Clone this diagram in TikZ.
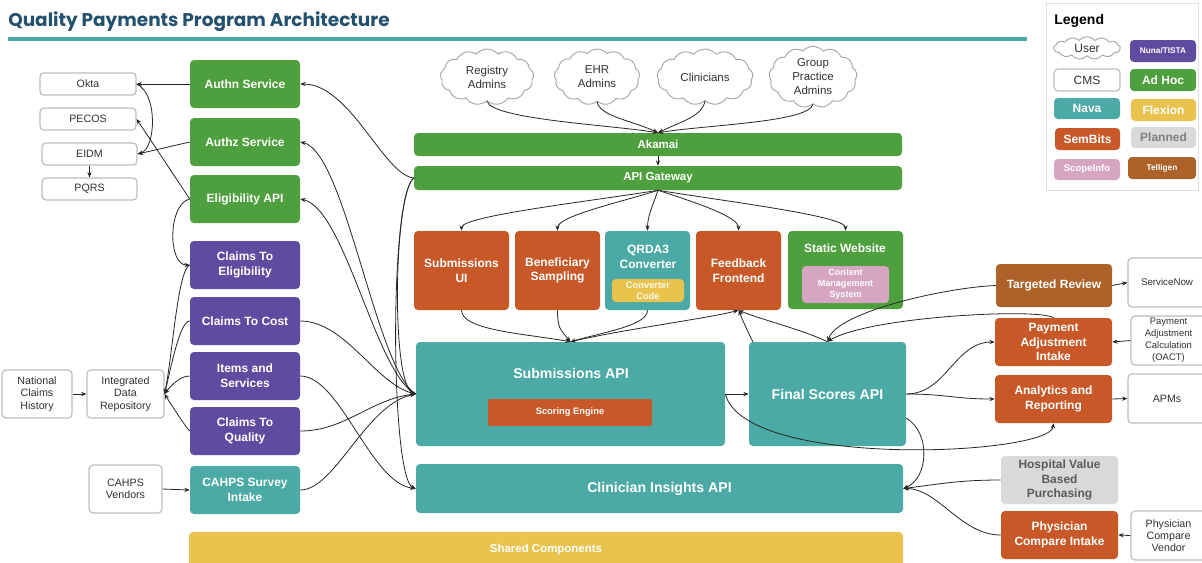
\documentclass[tikz,border=0pt]{standalone}
\usepackage{fontspec}
\usepackage{graphicx}
\setmainfont{Liberation Sans}
\newfontfamily\titlefont{Poppins}
\usetikzlibrary{shapes.symbols,arrows.meta}
\definecolor{adhoc}{RGB}{78,160,62}
\definecolor{nuna}{RGB}{95,76,160}
\definecolor{nava}{RGB}{75,170,165}
\definecolor{sembits}{RGB}{200,88,40}
\definecolor{flexion}{RGB}{233,195,77}
\definecolor{planned}{RGB}{217,217,217}
\definecolor{scope}{RGB}{213,165,193}
\definecolor{telligen}{RGB}{172,98,40}
\definecolor{titleblue}{RGB}{35,80,110}
\definecolor{titleline}{RGB}{76,168,166}
\definecolor{cmsborder}{RGB}{190,190,190}
\definecolor{darktext}{RGB}{50,50,50}
\newcommand\fs[2]{\fontsize{#1}{#2}\selectfont}
\newcommand\bx[7]{\node[#2, minimum width={(#5-#3)*0.75pt}, minimum height={(#6-#4)*0.75pt}] (#1) at ({(#3+#5)/2},{(#4+#6)/2}) {#7};}
\begin{document}
\begin{tikzpicture}[x=0.75pt,y=-0.75pt,
  base/.style={rounded corners=3pt, inner sep=1pt, align=center, text=white, font=\bfseries\fs{9}{11}},
  gbox/.style={base, fill=adhoc},
  pbox/.style={base, fill=nuna},
  tbox/.style={base, fill=nava},
  obox/.style={base, fill=sembits},
  ybox/.style={base, fill=flexion},
  graybox/.style={base, fill=planned, text=darktext!80},
  brbox/.style={base, fill=telligen},
  pkbox/.style={base, fill=scope},
  wbox/.style={rounded corners=3pt, inner sep=1pt, align=center, draw=cmsborder, line width=0.9pt, fill=white, text=darktext, font=\fs{8}{9.2}},
  cloudn/.style={cloud, cloud puffs=13, cloud puff arc=100, aspect=1.7, draw=gray!70, line width=0.7pt, fill=white, align=center, inner sep=-3pt, text=darktext, font=\fs{8.6}{10.5}},
  lbl/.style={align=center, text=white, font=\bfseries\fs{9}{11}, inner sep=0pt},
  arr/.style={-{Stealth[length=4pt,width=3.2pt]}, line width=0.6pt, black!85},
]
\useasboundingbox (0,0) rectangle (1202,562);
\fill[white] (0,0) rectangle (1202,562);

% title
\node[anchor=west, text=titleblue, inner sep=0pt] (title) at (8,22) {\resizebox{286pt}{!}{\titlefont\bfseries Quality Payments Program Architecture}};
\coordinate (tl1) at (8,39);
\coordinate (tl2) at (1027,39);
\draw[titleline, line width=2.4pt] (tl1) -- (tl2);

% legend
\bx{legend}{draw=gray!25, line width=0.6pt, fill=white}{1046}{3}{1198}{190}{}
\node[anchor=west, font=\bfseries\fs{10.5}{12}, inner sep=0pt] (lgtitle) at (1054,21) {Legend};
\node[cloudn, aspect=3, inner sep=0pt, minimum width=50pt, minimum height=17pt, font=\fs{9}{10}] (lguser) at (1087,48) {User};
\bx{lgnuna}{pbox, font=\bfseries\fs{6.2}{7}}{1130}{40}{1196}{62}{Nuna/TISTA}
\bx{lgcms}{wbox, font=\fs{9}{10}}{1054}{69}{1120}{91}{CMS}
\bx{lgadhoc}{gbox}{1130}{69}{1196}{91}{Ad Hoc}
\bx{lgnava}{tbox}{1054}{98}{1120}{119}{Nava}
\bx{lgflex}{ybox}{1131}{99}{1196}{121}{Flexion}
\bx{lgsem}{obox}{1055}{128}{1120}{150}{SemBits}
\bx{lgplan}{graybox, text=gray}{1131}{127}{1196}{148}{Planned}
\bx{lgscope}{pkbox, font=\bfseries\fs{7.2}{8}}{1054}{159}{1120}{180}{ScopeInfo}
\bx{lgtell}{brbox, font=\bfseries\fs{6.2}{7}}{1128}{157}{1196}{179}{Telligen}

% left white boxes
\bx{okta}{wbox}{40}{73}{136}{95}{Okta}
\bx{pecos}{wbox}{40}{108}{136}{130}{PECOS}
\bx{eidm}{wbox}{42}{143}{137}{165}{EIDM}
\bx{pqrs}{wbox}{42}{178}{137}{200}{PQRS}
\bx{nch}{wbox}{2}{370}{72}{418}{National\\Claims\\History}
\bx{idr}{wbox}{87}{370}{164}{418}{Integrated\\Data\\Repository}
\bx{cahpsv}{wbox}{89}{465}{162}{513}{CAHPS\\Vendors}

% left column
\bx{authn}{gbox}{190}{60}{300}{108}{Authn Service}
\bx{authz}{gbox}{190}{118}{300}{166}{Authz Service}
\bx{elig}{gbox}{190}{175}{300}{223}{Eligibility API}
\bx{c2elig}{pbox}{190}{241}{300}{289}{Claims To\\Eligibility}
\bx{c2cost}{pbox}{190}{297}{300}{345}{Claims To Cost}
\bx{items}{pbox}{190}{352}{300}{400}{Items and\\Services}
\bx{c2qual}{pbox}{190}{407}{300}{455}{Claims To\\Quality}
\bx{cahps}{tbox}{190}{466}{300}{514}{CAHPS Survey\\Intake}
\bx{shared}{ybox, font=\bfseries\fs{8.6}{10}}{189}{532}{903}{568}{Shared Components}

% clouds
\node[cloudn, minimum width=70pt, minimum height=42pt] (reg) at (487,77) {Registry\\Admins};
\node[cloudn, minimum width=64pt, minimum height=42pt] (ehr) at (597,77) {EHR\\Admins};
\node[cloudn, minimum width=72pt, minimum height=42pt] (clin) at (705,77) {Clinicians};
\node[cloudn, minimum width=66pt, minimum height=46pt] (grp) at (813,77) {Group\\Practice\\Admins};

% center
\bx{akamai}{gbox, font=\bfseries\fs{8.6}{10}}{414}{133}{902}{156}{Akamai}
\bx{gateway}{gbox, font=\bfseries\fs{8.6}{10}}{414}{166}{902}{190}{API Gateway}
\bx{subui}{obox}{414}{231}{509}{310}{Submissions\\UI}
\bx{bensamp}{obox}{515}{231}{600}{310}{Beneficiary\\Sampling}
\bx{qrda}{tbox}{605}{231}{690}{310}{}
\node[lbl] (qrdalbl) at (648,257) {QRDA3\\Converter};
\bx{convcode}{ybox, text=white!90!flexion, font=\bfseries\fs{7}{8.3}}{612}{279}{684}{302}{Converter\\Code}
\bx{feedback}{obox}{696}{231}{781}{310}{Feedback\\Frontend}
\bx{staticw}{gbox}{788}{231}{903}{309}{}
\node[lbl] (staticlbl) at (845,248) {Static Website};
\bx{cms}{pkbox, font=\bfseries\fs{6.8}{8.2}}{802}{266}{889}{303}{Content\\Management\\System}

\bx{subapi}{tbox}{416}{342}{725}{446}{}
\node[lbl, font=\bfseries\fs{10.6}{12}] (subapilbl) at (571,373) {Submissions API};
\bx{scoring}{obox, rounded corners=1pt, font=\bfseries\fs{7}{8}}{488}{399}{652}{426}{Scoring Engine}
\bx{finalapi}{tbox, font=\bfseries\fs{10.6}{12}}{749}{342}{906}{446}{Final Scores API}
\bx{clinapi}{tbox, font=\bfseries\fs{10.6}{12}}{416}{464}{903}{513}{Clinician Insights API}

% right
\bx{target}{brbox}{996}{264}{1112}{307}{Targeted Review}
\bx{servicenow}{wbox, font=\fs{7.3}{8.5}}{1128}{258}{1206}{307}{ServiceNow}
\bx{payadj}{obox}{995}{318}{1112}{366}{Payment\\Adjustment\\Intake}
\bx{oact}{wbox, font=\fs{7.1}{9}}{1131}{316}{1206}{365}{Payment\\Adjustment\\Calculation\\(OACT)}
\bx{analytics}{obox}{995}{375}{1112}{423}{Analytics and\\Reporting}
\bx{apms}{wbox}{1128}{374}{1206}{423}{APMs}
\bx{hvbp}{graybox}{1001}{456}{1118}{504}{Hospital Value\\Based\\Purchasing}
\bx{pci}{obox}{1001}{511}{1118}{559}{Physician\\Compare Intake}
\bx{pcv}{wbox}{1131}{511}{1206}{560}{Physician\\Compare\\Vendor}

% connectors: users
\draw[arr] (reg.south) .. controls +(5,18) and +(-50,-8) .. (akamai.north);
\draw[arr] (ehr.south) .. controls +(3,15) and +(-25,-12) .. (akamai.north);
\draw[arr] (clin.south) .. controls +(-3,15) and +(25,-12) .. (akamai.north);
\draw[arr] (grp.south) .. controls +(-5,18) and +(50,-8) .. (akamai.north);
\draw[arr] (akamai.south) -- (gateway.north);
% gateway fan-out
\draw[arr] (gateway.south) .. controls +(-60,10) and +(0,-15) .. (subui.north);
\draw[arr] (gateway.south) .. controls +(-30,10) and +(0,-15) .. (bensamp.north);
\draw[arr] (gateway.south) .. controls +(-5,15) and +(0,-15) .. (qrda.north);
\draw[arr] (gateway.south) .. controls +(30,10) and +(0,-15) .. (feedback.north);
\draw[arr] (gateway.south) .. controls +(60,10) and +(0,-15) .. (staticw.north);
% row to submissions api
\draw[arr] (subui.south) .. controls +(0,20) and +(-45,-8) .. (subapi.north);
\draw[arr] (bensamp.south) .. controls +(0,18) and +(-10,-12) .. (subapi.north);
\draw[arr] (qrda.south) .. controls +(0,15) and +(35,-10) .. (subapi.north);
\draw[arr] (subapi.north) .. controls +(50,-12) and +(-30,8) .. (feedback.south);
\draw[arr] (finalapi.145) .. controls +(-5,-10) and +(5,12) .. (feedback.south);
\draw[arr] (finalapi.north) .. controls +(-25,-12) and +(25,10) .. (feedback.south);
\draw[arr] (target.west) .. controls +(-50,2) and +(10,-30) .. (finalapi.north);
\draw[arr] (payadj.north) .. controls +(-15,-10) and +(40,-25) .. (finalapi.north);
% final scores outputs
\draw[arr] (finalapi.east) .. controls +(40,0) and +(-40,0) .. (payadj.west);
\draw[arr] (finalapi.east) .. controls +(40,0) and +(-40,0) .. (analytics.west);
\draw[arr] (finalapi.-17) .. controls +(25,15) and +(25,-10) .. (clinapi.east);
\draw[arr] (hvbp.west) .. controls +(-40,0) and +(40,-5) .. (clinapi.east);
\draw[arr] (pci.west) .. controls +(-40,0) and +(35,0) .. (clinapi.east);
\draw[arr] (subapi.east) -- (finalapi.west);
\draw[arr] (subapi.east) .. controls +(20,76) and +(-3,32) .. (analytics.south);
% right externals
\draw[arr] (target.east) -- (servicenow.west);
\draw[arr] (oact.west) -- (payadj.east);
\draw[arr] (analytics.east) -- (apms.west);
\draw[arr] (pcv.west) -- (pci.east);
% left middle
\draw[arr] (gateway.west) .. controls +(-30,-3) and +(50,0) .. (authn.east);
\draw[arr] (gateway.west) .. controls +(-20,15) and +(-25,-10) .. (subapi.west);
\draw[arr] (gateway.west) .. controls +(-25,20) and +(-25,-10) .. (clinapi.west);
\draw[arr] (subapi.west) .. controls +(-40,-25) and +(45,10) .. (authz.east);
\draw[arr] (subapi.west) .. controls +(-40,-20) and +(45,10) .. (elig.east);
\draw[arr] (c2cost.east) .. controls +(45,0) and +(-40,-10) .. (subapi.west);
\draw[arr] (items.east) .. controls +(40,0) and +(-45,-5) .. (clinapi.west);
\draw[arr] (c2qual.east) .. controls +(45,0) and +(-45,5) .. (subapi.west);
\draw[arr] (cahps.east) .. controls +(35,0) and +(-50,10) .. (subapi.west);
% far left
\draw[arr] (authn.west) -- (okta.east);
\draw[arr] (okta.east) .. controls +(22,10) and +(18,-5) .. (eidm.east);
\draw[arr] (authz.west) -- (eidm.east);
\draw[arr] (elig.west) -- (pecos.east);
\draw[arr] (eidm.south) -- (pqrs.north);
\draw[arr] (elig.west) .. controls +(-22,5) and +(-22,0) .. (c2elig.west);
\draw[arr] (c2elig.west) .. controls +(-12,5) and +(8,-40) .. (idr.east);
\draw[arr] (c2cost.west) .. controls +(-10,0) and +(6,-25) .. (idr.east);
\draw[arr] (items.west) .. controls +(-10,0) and +(6,-8) .. (idr.east);
\draw[arr] (c2qual.west) .. controls +(-5,-5) and +(5,8) .. (idr.east);
\draw[arr] (nch.east) -- (idr.west);
\draw[arr] (cahpsv.east) -- (cahps.west);
\end{tikzpicture}
\end{document}
